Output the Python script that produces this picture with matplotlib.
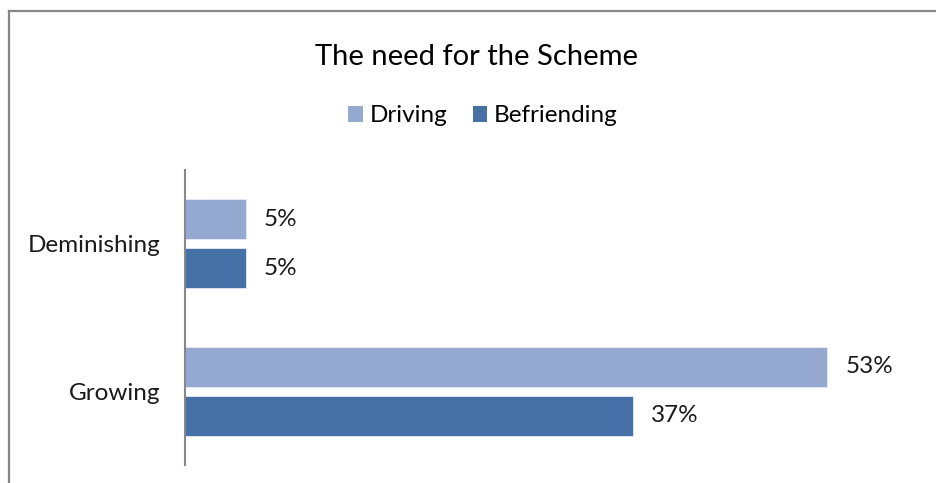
import matplotlib
matplotlib.use("Agg")
import matplotlib.pyplot as plt
from matplotlib.lines import Line2D
from matplotlib.patches import Patch

plt.rcParams['font.family'] = ['Lato', 'DejaVu Sans']

categories = ["Growing", "Deminishing"]
series_names = ["Driving", "Befriending"]
driving = [53, 5]
befriending = [37, 5]
colors = ["#95A9D0", "#4571A6"]

W, H, DPI = 936, 483, 100
fig = plt.figure(figsize=(W / DPI, H / DPI), dpi=DPI)

# outer chart frame (left and top edges visible)
fx = 8.5 / W
fy = 1 - 11 / H
fig.add_artist(Line2D([fx, fx], [0, fy], transform=fig.transFigure, color="#878787", lw=1.6))
fig.add_artist(Line2D([fx, 1], [fy, fy], transform=fig.transFigure, color="#878787", lw=1.6))

left, right = 185 / W, 912 / W
bottom, top = 1 - 465 / H, 1 - 170 / H
ax = fig.add_axes([left, bottom, right - left, top - bottom])

label_size = 17.5
ypos = list(range(len(categories)))
h = 0.27
off = 0.166
for vals, name, col, d in [(driving, series_names[0], colors[0], off),
                           (befriending, series_names[1], colors[1], -off)]:
    ys = [y + d for y in ypos]
    bars = ax.barh(ys, vals, height=h, color=col, edgecolor="#E6ECF5", linewidth=0.6, label=name)
    for b, v in zip(bars, vals):
        ax.annotate(f"{v}%", (b.get_width(), b.get_y() + b.get_height() / 2),
                    xytext=(13, 0), textcoords="offset points",
                    ha="left", va="center", fontsize=label_size, color="#1a1a1a")

ax.set_xlim(0, 60)
ax.set_ylim(-0.5, 1.5)
ax.set_yticks(ypos)
ax.set_yticklabels(categories, fontsize=label_size, color="#1a1a1a")
ax.tick_params(axis="y", length=0, pad=18)
ax.set_xticks([])
for s in ["top", "right", "bottom"]:
    ax.spines[s].set_visible(False)
ax.spines["left"].set_color("#888888")
ax.spines["left"].set_linewidth(1.5)

fig.text(477 / W, 1 - 57 / H, "The need for the Scheme", ha="center", va="center",
         fontsize=21, color="#000000")

handles = [Patch(facecolor=c, edgecolor="none") for c in colors]
fig.legend(handles, series_names, loc="center", bbox_to_anchor=(483 / W, 1 - 116 / H),
           ncol=2, frameon=False, fontsize=label_size, handlelength=0.6, handleheight=0.6,
           handletextpad=0.28, columnspacing=1.05)

fig.savefig("out.png", dpi=DPI)
